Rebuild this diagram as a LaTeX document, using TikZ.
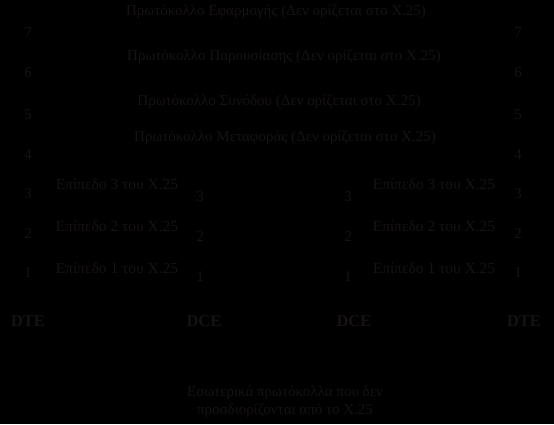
\documentclass[tikz,border=0pt]{standalone}
\usepackage{fontspec}
\setmainfont{Liberation Serif}
\definecolor{ink}{rgb}{0.09,0.07,0.07}
\begin{document}
\begin{tikzpicture}[x=1pt,y=-1pt,font=\fontsize{15}{18}\selectfont,text=ink,
	lvl/.style={font=\fontsize{15.5}{18}\selectfont},
	unit/.style={font=\fontsize{16.5}{18}\selectfont\bfseries}]
	\fill[black] (0,0) rectangle (554,424);
	\useasboundingbox (0,0) rectangle (554,424);
	% upper layers, not given by X.25
	\foreach \n/\t/\xx/\yy in {
		app/Εφαρμογής/276/12,
		pres/Παρουσίασης/284/57,
		sess/Συνόδου/279/102,
		trans/Μεταφοράς/285/138}{
		\node (\n) at (\xx,\yy) {Πρωτόκολλο \t\ (Δεν ορίζεται στο X.25)};
	}
	% layer numbers at the two ends
	\foreach \k/\yy in {7/33,6/73,5/115,4/155,3/194,2/234,1/273}{
		\node (l\k) at (28,\yy) {\k};
		\node (r\k) at (518,\yy) {\k};
	}
	% layer numbers at the two DCE
	\foreach \k/\yy in {3/197,2/237,1/277}{
		\node (ml\k) at (200,\yy) {\k};
		\node (mr\k) at (348,\yy) {\k};
	}
	% X.25 levels
	\foreach \k/\yy in {3/184,2/226,1/268}{
		\node[lvl] (el\k) at (117,\yy) {Επίπεδο \k\ του X.25};
		\node[lvl] (er\k) at (434,\yy) {Επίπεδο \k\ του X.25};
	}
	\node[unit] (dte1) at (28,321) {DTE};
	\node[unit] (dce1) at (204,321) {DCE};
	\node[unit] (dce2) at (354,321) {DCE};
	\node[unit] (dte2) at (524,321) {DTE};
	\node[align=center] (inner) at (285,402) {Εσωτερικά πρωτόκολλα που δεν\\προσδιορίζονται από το X.25};
\end{tikzpicture}
\end{document}
